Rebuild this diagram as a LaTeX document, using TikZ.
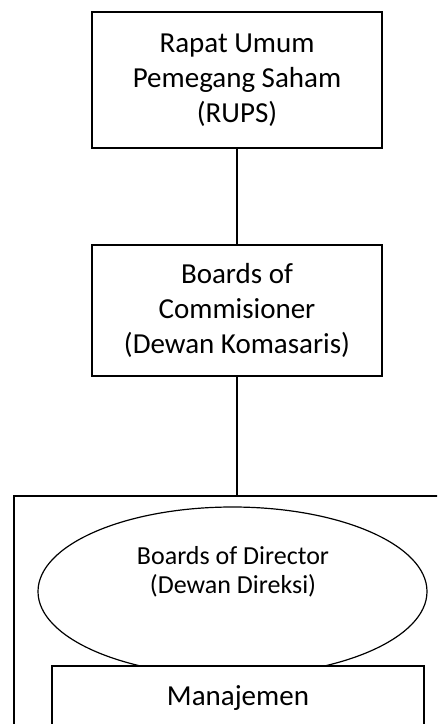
\documentclass[tikz,border=0pt]{standalone}
\usepackage{fontspec}
\setmainfont{Carlito}
\usetikzlibrary{shapes.geometric}

\begin{document}
\begin{tikzpicture}[x=0.75pt,y=-0.75pt]
    \useasboundingbox (0,0) rectangle (437,724);
    \clip (0,0) rectangle (437,724);

        \begin{scope}[every node/.style={rectangle,draw,line width=1.5pt,align=center,font=\fontsize{21.75}{26.25}\selectfont}]
            \node[minimum width=217.5pt,minimum height=102pt] (rups) at (237,80) {Rapat Umum\\Pemegang Saham\\(RUPS)};
            \node[minimum width=217.5pt,minimum height=98.25pt] (dk) at (237,310.5) {Boards of\\Commisioner\\(Dewan Komasaris)};
            \node[anchor=north west,minimum width=360pt,minimum height=250pt] (grup) at (13,495) {};
        \end{scope}

        \node[ellipse,draw,line width=0.9pt,minimum width=291.75pt,minimum height=126.75pt] (bod) at (232.5,591.5) {};
        \node[align=center,font=\fontsize{19.5}{22}\selectfont] (bodtext) at (233,572) {Boards of Director\\(Dewan Direksi)};
        \node[rectangle,draw,fill=white,line width=1.5pt,minimum width=279pt,minimum height=48pt,font=\fontsize{21.75}{26.25}\selectfont] (mgmt) at (238,698) {Manajemen};

        \begin{scope}[every edge/.style={draw,line width=1.2pt}]
            \path (rups) edge (dk);
            \path (dk) edge (dk.south |- grup.north);
        \end{scope}

\end{tikzpicture}
\end{document}
